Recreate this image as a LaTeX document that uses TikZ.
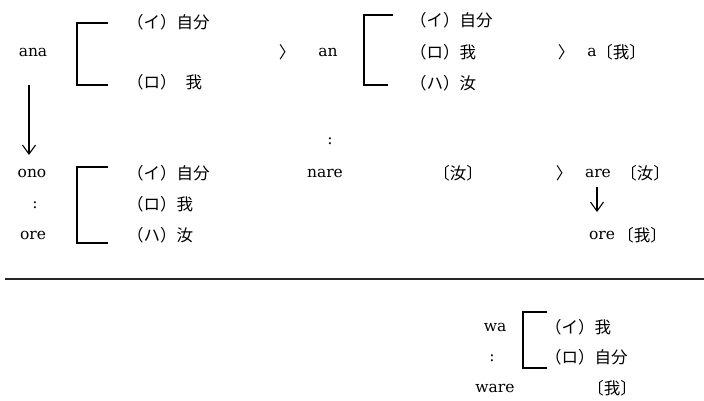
\documentclass[tikz,border=0pt]{standalone}
\usepackage{fontspec}
\newfontfamily\jpfont{Noto Sans CJK JP}
\newfontfamily\latfont{DejaVu Serif}
\usetikzlibrary{arrows.meta}
\begin{document}
\begin{tikzpicture}[x=1pt,y=-1pt,
  lat/.style={inner sep=0pt,font=\latfont\fontsize{15.5}{18}\selectfont},
  jp/.style={inner sep=0pt,anchor=west,font=\jpfont\fontsize{16.5}{19}\selectfont},
  jpc/.style={inner sep=0pt,font=\jpfont\fontsize{16.5}{19}\selectfont},
  brk/.style={line width=1.1pt},
  darr/.style={line width=1.1pt,-{Straight Barb[length=9pt,width=13pt]}}]
\useasboundingbox (0,0) rectangle (704,401);
% row 1
\node[lat] (ana) at (33,52) {ana};
\draw[brk] (108,23) -| (77,85) -- (108,85);
\node[jp] (r1i) at (127,22) {（イ）自分};
\node[jp] (r1ro) at (127,82) {（ロ）\hspace{9pt}我};
\node[jpc] (gt1) at (287,52) {〉};
\node[lat] (an) at (328,52) {an};
\draw[brk] (393,15) -| (364,85) -- (388,85);
\node[jp] (r2i) at (410,20) {（イ）自分};
\node[jp] (r2ro) at (410,52) {（ロ）我};
\node[jp] (r2ha) at (410,83) {（ハ）汝};
\node[jpc] (gt2) at (566,52) {〉};
\node[lat] (a) at (592,52) {a};
\node[jpc] (aw) at (621,52) {〔我〕};
\coordinate (ar1s) at (29,85);
\coordinate (ar1e) at (29,155);
\draw[darr] (ar1s) -- (ar1e);
% row 2
\node[lat] (cm) at (330,141) {:};
\node[lat] (ono) at (32,173) {ono};
\node[lat] (c1) at (35,205) {:};
\node[lat] (ore) at (33,235) {ore};
\draw[brk] (108,167) -| (77,243) -- (108,243);
\node[jp] (r3i) at (127,173) {（イ）自分};
\node[jp] (r3ro) at (127,204) {（ロ）我};
\node[jp] (r3ha) at (127,235) {（ハ）汝};
\node[lat] (nare) at (325,173) {nare};
\node[jpc] (nan) at (458,173) {〔汝〕};
\node[jpc] (gt3) at (564,173) {〉};
\node[lat] (are) at (598,173) {are};
\node[jpc] (aren) at (645,173) {〔汝〕};
\node[lat] (ore2) at (602,235) {ore};
\node[jpc] (ore2w) at (642,235) {〔我〕};
\coordinate (ar2s) at (597,187);
\coordinate (ar2e) at (597,212);
\draw[darr] (ar2s) -- (ar2e);
% rule
\coordinate (rl) at (5,279);
\coordinate (rr) at (704,279);
\draw[line width=1.3pt,black!85] (rl) -- (rr);
% row 3
\node[lat] (wa) at (495,327) {wa};
\node[lat] (c3) at (492,358) {:};
\node[lat] (ware) at (495,388) {ware};
\draw[brk] (547,312) -| (523,368) -- (547,368);
\node[jp] (r4i) at (545,327) {（イ）我};
\node[jp] (r4ro) at (545,357) {（ロ）自分};
\node[jpc] (r4w) at (612,388) {〔我〕};
\end{tikzpicture}
\end{document}
